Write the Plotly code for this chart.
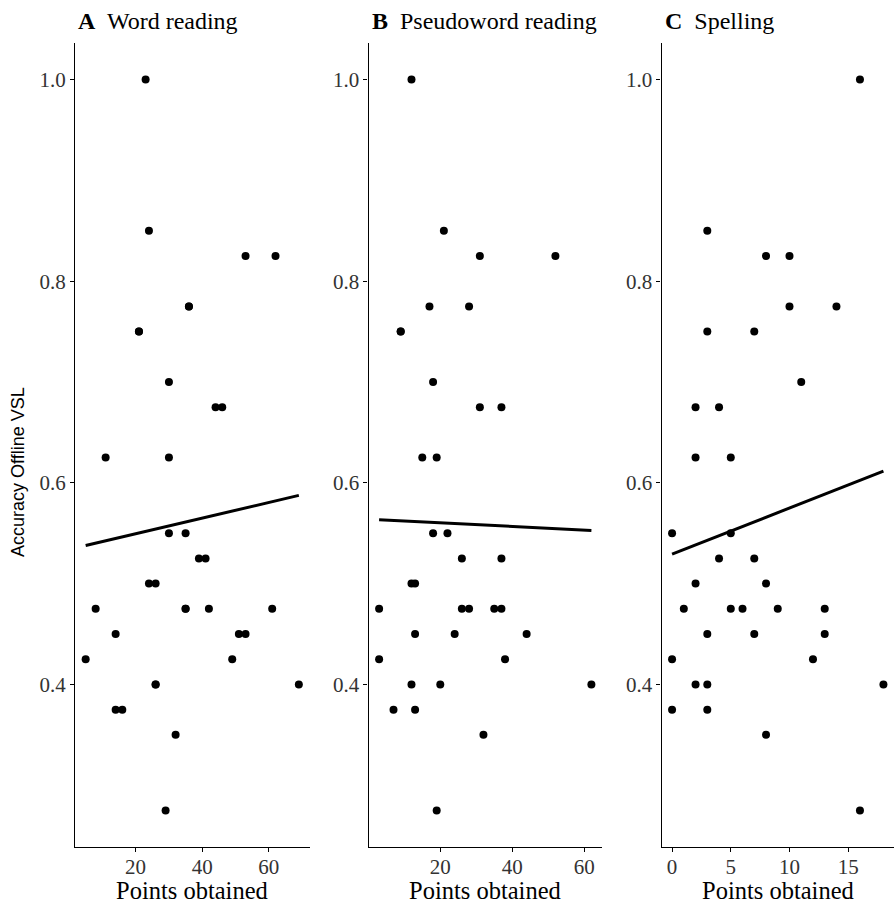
import numpy as np
import plotly.graph_objects as go

W, H = 894, 903

# Panel A: Word reading
word_x = [23, 24, 53, 62, 36, 36, 21, 21, 30, 44, 46, 11, 30,
          30, 35, 39, 41, 24, 26, 8, 35, 35, 42, 61, 14, 51, 53,
          5, 49, 26, 26, 69, 14, 16, 32, 29]
word_y = [1.0, 0.85, 0.825, 0.825, 0.775, 0.775, 0.75, 0.75, 0.7, 0.675, 0.675, 0.625, 0.625,
          0.55, 0.55, 0.525, 0.525, 0.5, 0.5, 0.475, 0.475, 0.475, 0.475, 0.475, 0.45, 0.45, 0.45,
          0.425, 0.425, 0.4, 0.4, 0.4, 0.375, 0.375, 0.35, 0.275]

# Panel B: Pseudoword reading
pseudo_x = [12, 21, 31, 52, 17, 28, 9, 9, 18, 31, 37, 15, 19,
            18, 22, 26, 37, 12, 13, 3, 26, 28, 35, 37, 13, 24, 44,
            3, 38, 12, 20, 62, 7, 13, 32, 19]
pseudo_y = [1.0, 0.85, 0.825, 0.825, 0.775, 0.775, 0.75, 0.75, 0.7, 0.675, 0.675, 0.625, 0.625,
            0.55, 0.55, 0.525, 0.525, 0.5, 0.5, 0.475, 0.475, 0.475, 0.475, 0.475, 0.45, 0.45, 0.45,
            0.425, 0.425, 0.4, 0.4, 0.4, 0.375, 0.375, 0.35, 0.275]

# Panel C: Spelling
spell_x = [16, 3, 8, 10, 10, 14, 3, 7, 11, 2, 4, 2, 5,
           0, 5, 4, 7, 2, 8, 1, 5, 6, 9, 13, 3, 7, 13,
           0, 12, 2, 3, 18, 0, 3, 8, 16]
spell_y = [1.0, 0.85, 0.825, 0.825, 0.775, 0.775, 0.75, 0.75, 0.7, 0.675, 0.675, 0.625, 0.625,
           0.55, 0.55, 0.525, 0.525, 0.5, 0.5, 0.475, 0.475, 0.475, 0.475, 0.475, 0.45, 0.45, 0.45,
           0.425, 0.425, 0.4, 0.4, 0.4, 0.375, 0.375, 0.35, 0.275]

panel_letters = ["A", "B", "C"]
panel_titles = ["Word reading", "Pseudoword reading", "Spelling"]
x_ticks = [[20, 40, 60], [20, 40, 60], [0, 5, 10, 15]]
y_ticks = [0.4, 0.6, 0.8, 1.0]
y_tick_labels = ["0.4", "0.6", "0.8", "1.0"]
x_label = "Points obtained"
y_label = "Accuracy Offline VSL"

datasets = [(word_x, word_y), (pseudo_x, pseudo_y), (spell_x, spell_y)]

# pixel layout
x_domains_px = [(75, 309.5), (368.5, 602), (661.5, 894)]
y_domain_px = (43, 847)

def px2x(p):
    return p / W

def px2y(p):
    return 1 - p / H

SERIF = "Liberation Serif, Times New Roman, serif"
SANS = "Liberation Sans, Arial, sans-serif"

fig = go.Figure()
layout = dict(
    width=W, height=H,
    margin=dict(l=0, r=0, t=0, b=0),
    paper_bgcolor="white", plot_bgcolor="white",
    showlegend=False,
    font=dict(family=SERIF, color="black"),
)

ally = [v for _, ys in datasets for v in ys]
ymin, ymax = min(ally), max(ally)
yexp = (ymax - ymin) * 0.05

annotations = []
for i, (xs, ys) in enumerate(datasets):
    xa = "x" if i == 0 else f"x{i+1}"
    ya = "y" if i == 0 else f"y{i+1}"
    xs_a = np.array(xs, float)
    ys_a = np.array(ys, float)
    fig.add_trace(go.Scatter(x=xs, y=ys, mode="markers", xaxis=xa, yaxis=ya,
                             marker=dict(color="black", size=8, line=dict(width=0))))
    b, a = np.polyfit(xs_a, ys_a, 1)
    lx = np.array([xs_a.min(), xs_a.max()])
    fig.add_trace(go.Scatter(x=lx, y=a + b * lx, mode="lines", xaxis=xa, yaxis=ya,
                             line=dict(color="black", width=3)))
    xmin, xmax = xs_a.min(), xs_a.max()
    xexp = (xmax - xmin) * 0.05
    d0, d1 = x_domains_px[i]
    axis_common = dict(showline=True, linecolor="black", linewidth=1.1,
                       ticks="outside", ticklen=4, tickwidth=1.1, tickcolor="black",
                       showgrid=False, zeroline=False,
                       tickfont=dict(family=SERIF, size=21, color="#333333"))
    layout["xaxis" if i == 0 else f"xaxis{i+1}"] = dict(
        domain=[px2x(d0), px2x(d1)], anchor=ya,
        range=[xmin - xexp, xmax + xexp], tickvals=x_ticks[i],
        ticklabelstandoff=-3,
        **axis_common)
    layout["yaxis" if i == 0 else f"yaxis{i+1}"] = dict(
        domain=[px2y(y_domain_px[1]), px2y(y_domain_px[0])], anchor=xa,
        range=[ymin - yexp, ymax + yexp], tickvals=y_ticks, ticktext=y_tick_labels,
        **axis_common)
    annotations.append(dict(
        text=f"<b>{panel_letters[i]}</b>&nbsp; {panel_titles[i]}",
        x=px2x(d0 + 1), y=px2y(21), xref="paper", yref="paper",
        xanchor="left", yanchor="middle", showarrow=False,
        font=dict(family=SERIF, size=24, color="black")))
    annotations.append(dict(
        text=x_label, x=px2x((d0 + d1) / 2), y=px2y(890), xref="paper", yref="paper",
        xanchor="center", yanchor="middle", showarrow=False,
        font=dict(family=SERIF, size=24.5, color="black")))

annotations.append(dict(
    text=y_label, x=px2x(18), y=px2y(472), xref="paper", yref="paper",
    xanchor="center", yanchor="middle", showarrow=False, textangle=-90,
    font=dict(family=SANS, size=18, color="black")))

layout["annotations"] = annotations
fig.update_layout(**layout)
fig.write_html("out.html")
